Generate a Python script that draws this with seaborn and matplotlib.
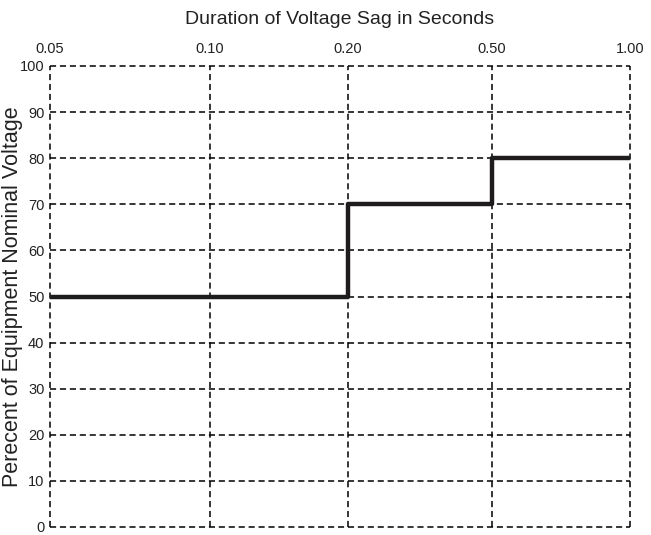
import numpy as np
import pandas as pd
import matplotlib
matplotlib.use("Agg")
import matplotlib.pyplot as plt
import seaborn as sns

# data
tick_values = [0.05, 0.10, 0.20, 0.50, 1.00]
tick_labels = ["0.05", "0.10", "0.20", "0.50", "1.00"]
curve_duration = [0.05, 0.20, 0.20, 0.50, 0.50, 1.00]
curve_percent = [50, 50, 70, 70, 80, 80]
y_ticks = list(range(0, 101, 10))

# layout: uneven axis spacing of the reference
tick_positions = [0.0, 0.276, 0.514, 0.762, 1.0]

sns.set_theme(style="white")
plt.rcParams['font.family'] = ['Liberation Sans', 'DejaVu Sans']

fig = plt.figure(figsize=(6.51, 5.35), dpi=100)
ax = fig.add_axes([50/651, 1-527/535, 580/651, 461/535])

df = pd.DataFrame({
    "x": np.interp(curve_duration, tick_values, tick_positions),
    "y": curve_percent,
})
sns.lineplot(data=df, x="x", y="y", estimator=None, sort=False,
             color="#1e1c1c", linewidth=3.2, ax=ax, zorder=3)

ax.set_xlim(0, 1)
ax.set_ylim(0, 100)
ax.set_xticks(tick_positions)
ax.set_xticklabels(tick_labels)
ax.set_yticks(y_ticks)
ax.xaxis.tick_top()
ax.xaxis.set_label_position("top")
ax.tick_params(axis="both", length=0, labelsize=10.5, colors="#222222", pad=4)
ax.tick_params(axis="x", pad=7)
ax.set_xlabel("Duration of Voltage Sag in Seconds", fontsize=14, color="#222222", labelpad=13)
ax.set_ylabel("Perecent of Equipment Nominal Voltage", fontsize=15.5, color="#222222")
ax.yaxis.set_label_coords(-27/580, 0.5)

for s in ax.spines.values():
    s.set_visible(False)
ax.grid(True, color="black", linestyle=(0, (4, 2.5)), linewidth=1.1)
for ln in ax.get_xgridlines() + ax.get_ygridlines():
    ln.set_clip_on(False)

fig.savefig("out.png", dpi=100)
